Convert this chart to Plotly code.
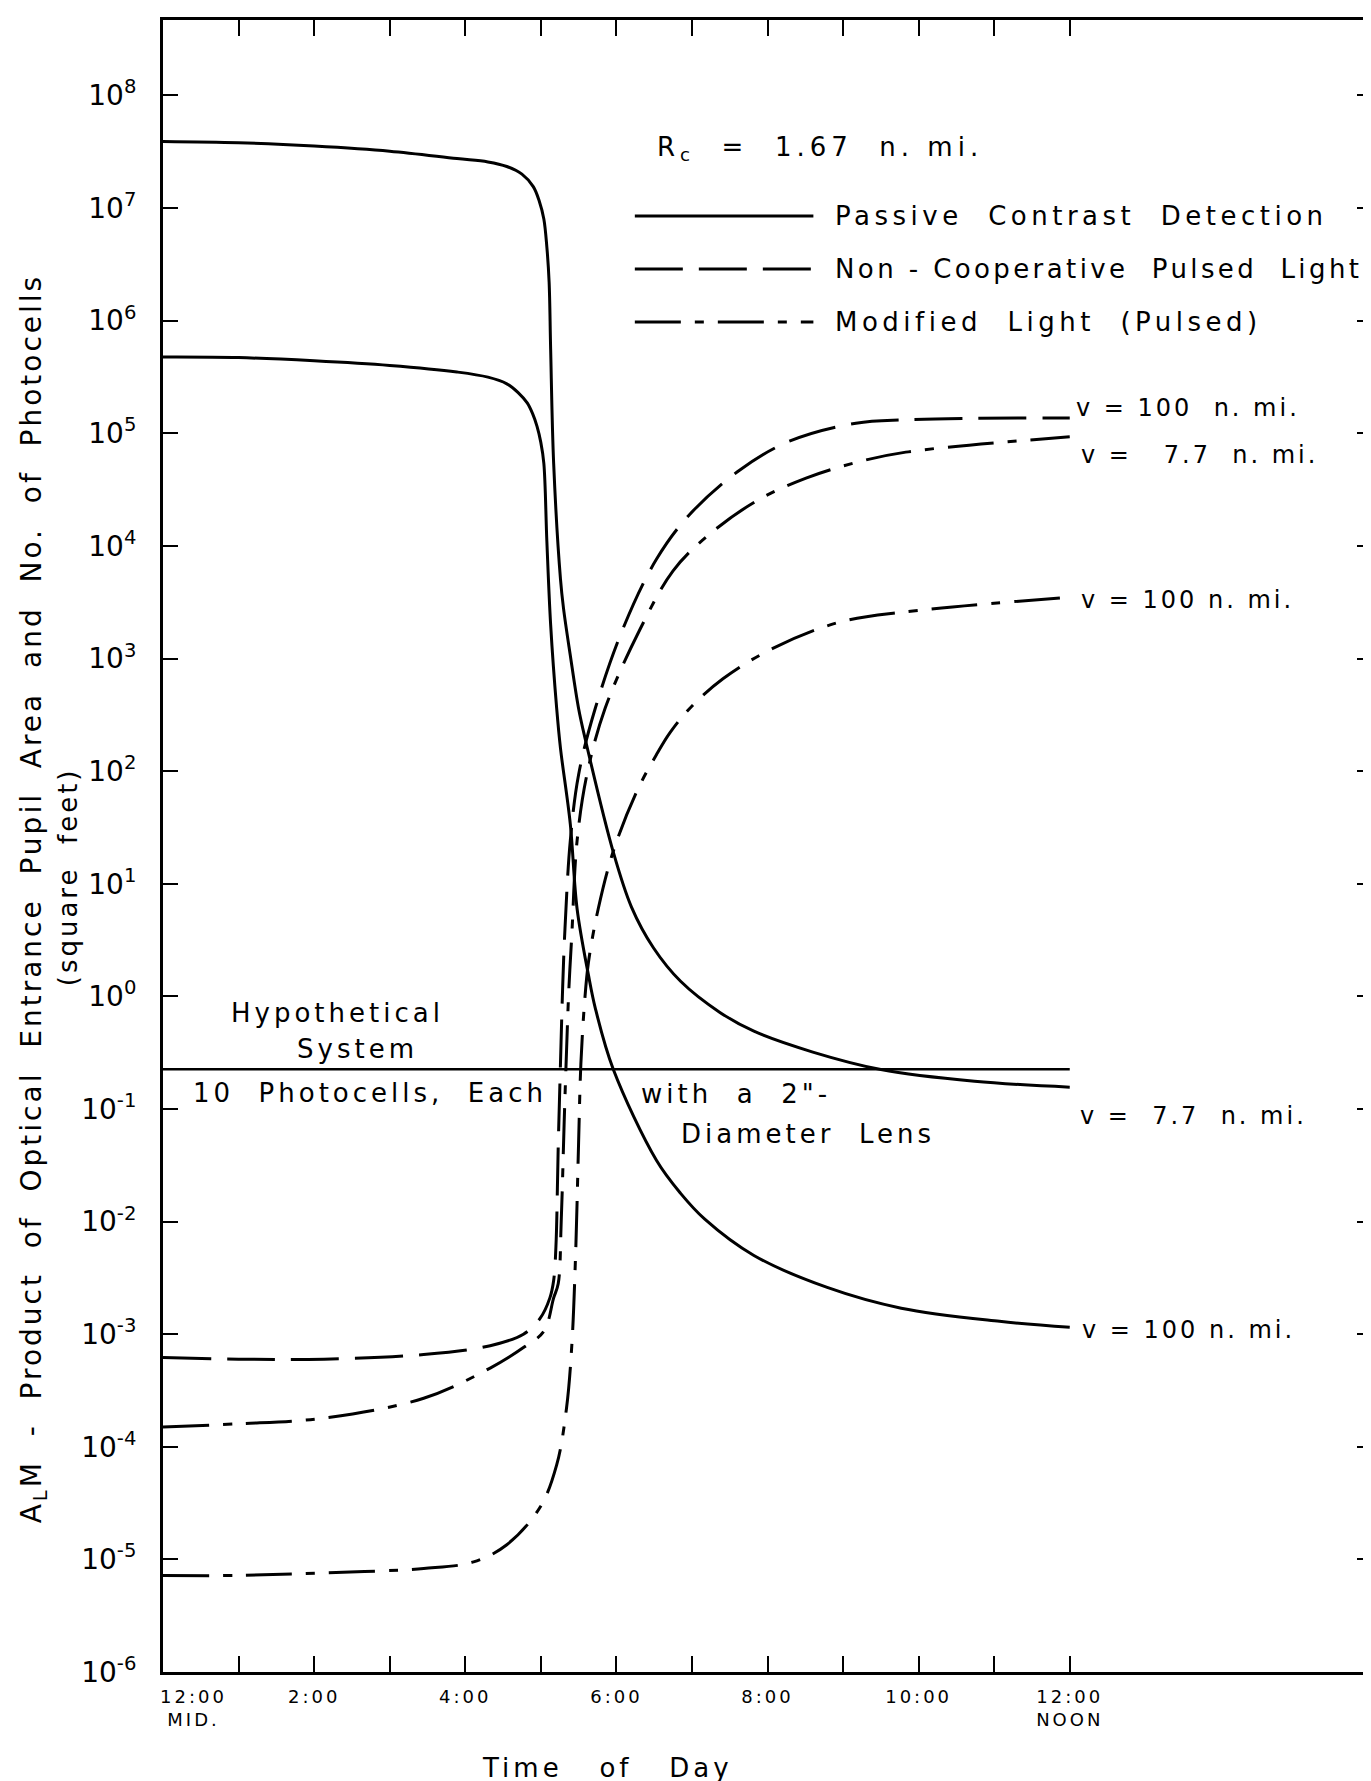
import plotly.graph_objects as go

# ---------------- data (hours after midnight, values in square feet) ----------------
passive_77_h = [0, 1, 2, 3, 3.89, 4.30, 4.55, 4.75, 4.90, 4.98, 5.04, 5.08, 5.11, 5.13,
                5.17, 5.26, 5.30, 5.39, 5.50, 5.59, 5.96, 6.20, 6.49, 6.85, 7.37, 7.82,
                8.60, 9.50, 10.74, 12]
passive_77_v = [3.9e7, 3.8e7, 3.55e7, 3.2e7, 2.75e7, 2.57e7, 2.34e7, 2.0e7, 1.55e7, 1.15e7,
                8.0e6, 4.5e6, 2.2e6, 5.6e5, 5.4e4, 5.1e3, 2.8e3, 1.07e3, 3.6e2, 1.9e2,
                19, 6.2, 2.7, 1.36, 0.72, 0.49, 0.32, 0.224, 0.176, 0.156]

passive_100_h = [0, 1, 2, 3, 3.89, 4.30, 4.55, 4.70, 4.82, 4.89, 4.95, 5.00, 5.04, 5.08,
                 5.13, 5.21, 5.26, 5.39, 5.48, 5.63, 5.72, 5.96, 6.53, 6.85, 7.17, 7.82,
                 8.79, 9.77, 11.07, 12]
passive_100_v = [4.75e5, 4.7e5, 4.4e5, 4.0e5, 3.5e5, 3.15e5, 2.75e5, 2.3e5, 1.86e5, 1.5e5,
                 1.15e5, 8.3e4, 5.4e4, 1.1e4, 2.0e3, 3.6e2, 1.6e2, 34, 6.0, 1.55, 0.79,
                 0.224, 0.035, 0.0178, 0.0105, 5.0e-3, 2.6e-3, 1.7e-3, 1.3e-3, 1.15e-3]

noncoop_100_h = [0, 1, 2.13, 3.45, 4.33, 4.77, 4.99, 5.12, 5.17, 5.20, 5.23, 5.26, 5.29,
                 5.32, 5.39, 5.50, 5.72, 6.09, 6.53, 6.97, 7.63, 8.29, 9.17, 9.83, 12]
noncoop_100_v = [6.2e-4, 6.0e-4, 6.0e-4, 6.6e-4, 7.9e-4, 1.0e-3, 1.38e-3, 2.1e-3, 3.0e-3,
                 6.0e-3, 0.045, 0.25, 1.26, 4.0, 24, 93, 3.6e2, 1.86e3, 7.6e3, 1.9e4,
                 4.7e4, 8.5e4, 1.23e5, 1.32e5, 1.37e5]

modified_77_h = [0, 1, 2.13, 3.45, 4.33, 4.77, 5.04, 5.17, 5.23, 5.27, 5.31, 5.34, 5.37,
                 5.41, 5.48, 5.61, 5.85, 6.31, 6.75, 7.19, 7.85, 8.51, 9.17, 9.83, 12]
modified_77_v = [1.5e-4, 1.6e-4, 1.8e-4, 2.7e-4, 5.0e-4, 7.6e-4, 1.06e-3, 2.1e-3, 2.8e-3,
                 0.01, 0.08, 0.32, 1.12, 3.5, 24, 93, 3.6e2, 1.8e3, 6.0e3, 1.2e4, 2.5e4,
                 4.0e4, 5.5e4, 6.8e4, 9.3e4]

modified_100_h = [0, 1, 2.13, 3.45, 4.11, 4.55, 4.99, 5.21, 5.34, 5.41, 5.46, 5.50, 5.53,
                  5.58, 5.63, 5.76, 5.96, 6.27, 6.53, 6.71, 6.97, 7.41, 8.07, 8.95, 9.83, 12]
modified_100_v = [7.2e-6, 7.2e-6, 7.6e-6, 8.3e-6, 9.5e-6, 1.35e-5, 2.9e-5, 6.9e-5, 2.2e-4,
                  7.9e-4, 5.0e-3, 0.05, 0.25, 0.9, 2.0, 6.0, 19.5, 66, 1.4e2, 2.2e2, 3.6e2,
                  6.6e2, 1.23e3, 2.1e3, 2.6e3, 3.5e3]

hypothetical_h = [0, 12]
hypothetical_v = [0.225, 0.225]

x_tick_vals = list(range(0, 13))
x_tick_labels = ["12:00\nMID.", "", "2:00", "", "4:00", "", "6:00", "", "8:00", "",
                 "10:00", "", "12:00\nNOON"]
y_exponents = list(range(-6, 9))

legend_labels = ["Passive  Contrast  Detection",
                 "Non - Cooperative  Pulsed  Light",
                 "Modified  Light  (Pulsed)"]
legend_spacing = [4.5, 3.4, 4.5]

# ---------------- styles ----------------
FONT = "DejaVu Sans"
INK = "black"
DASH = "48px,16px"
DASHDOT = "46px,14px,9px,14px"

W, H = 1371, 1781
L, R, T, B = 155, 1367, 12, 1664


def px(x):
    return (x - L) / (R - L)


def py(y):
    return 1 - (y - T) / (B - T)


def spaced(s, ls):
    return '<span style="letter-spacing:%.1fpx">%s</span>' % (ls, s)


fig = go.Figure()

curves = [
    (passive_77_h, passive_77_v, "solid"),
    (passive_100_h, passive_100_v, "solid"),
    (noncoop_100_h, noncoop_100_v, DASH),
    (modified_77_h, modified_77_v, DASHDOT),
    (modified_100_h, modified_100_v, DASHDOT),
]
for xs, ys, dash in curves:
    fig.add_trace(go.Scatter(x=xs, y=ys, mode="lines",
                             line=dict(color=INK, width=3, dash=dash,
                                       shape="spline", smoothing=1.0),
                             showlegend=False, hoverinfo="skip"))

fig.add_trace(go.Scatter(x=hypothetical_h, y=hypothetical_v, mode="lines",
                         line=dict(color=INK, width=2.6), showlegend=False,
                         hoverinfo="skip"))

# legend samples drawn as long strokes
legend_y = [208, 261, 314]
legend_dash = ["solid", DASH, DASHDOT]
shapes = []
for yy, dsh in zip(legend_y, legend_dash):
    shapes.append(dict(type="line", xref="paper", yref="paper",
                       x0=px(628), x1=px(807), y0=py(yy), y1=py(yy),
                       line=dict(color=INK, width=3, dash=dsh)))

ann = []


def text(s, x, y, size=24, xanchor="left", angle=0, ls=0):
    if ls:
        s = spaced(s, ls)
    ann.append(dict(text=s, x=px(x), y=py(y), xref="paper", yref="paper",
                    xanchor=xanchor, yanchor="middle", showarrow=False,
                    textangle=angle, font=dict(family=FONT, size=size, color=INK)))


for yy, lab, ls in zip(legend_y, legend_labels, legend_spacing):
    text(lab, 827, yy, size=26, ls=ls)

text("R<sub>c</sub>  =  1.67  n. mi.", 648, 140, size=26, ls=5)

text("v = 100  n. mi.", 1068, 400, size=24, ls=3)
text("v =   7.7  n. mi.", 1073, 447, size=24, ls=3)
text("v = 100 n. mi.", 1073, 592, size=24, ls=3)
text("v =  7.7  n. mi.", 1072, 1108, size=24, ls=3)
text("v = 100 n. mi.", 1074, 1322, size=24, ls=3)

text("Hypothetical", 330, 1005, size=26, xanchor="center", ls=4)
text("System", 350, 1041, size=26, xanchor="center", ls=4)
text("10  Photocells,  Each", 183, 1085, size=26, ls=4)
text("with  a  2\"-", 632, 1086, size=26, ls=4)
text("Diameter  Lens", 672, 1126, size=26, ls=4)

text("A<sub>L</sub>M  -  Product  of  Optical  Entrance  Pupil  Area  and  No.  of  Photocells",
     25, 890, size=28, xanchor="center", angle=-90, ls=3)
text("(square  feet)", 60, 869, size=26, xanchor="center", angle=-90, ls=3)
text("Time   of   Day", 601, 1760, size=26, xanchor="center", ls=4)

fig.update_layout(
    width=W, height=H,
    margin=dict(l=L, r=W - R, t=T, b=H - B),
    paper_bgcolor="white", plot_bgcolor="white",
    shapes=shapes, annotations=ann,
    font=dict(family=FONT, color=INK),
)

x_tick_text = []
for i, lab in enumerate(x_tick_labels):
    if not lab:
        x_tick_text.append("")
        continue
    lines = lab.split("\n")
    if i == 0:
        lines = ["\u00a0" * 7 + ln for ln in lines]
    x_tick_text.append("<br>".join(spaced(ln, 3) for ln in lines))

fig.update_xaxes(range=[0, 16], showgrid=False, zeroline=False,
                 showline=True, linewidth=3, linecolor=INK, mirror="ticks",
                 ticks="inside", ticklen=16, tickwidth=2, tickcolor=INK,
                 tickvals=x_tick_vals, ticktext=x_tick_text,
                 tickfont=dict(family=FONT, size=18, color=INK),
                 ticklabelstandoff=6)

fig.update_yaxes(type="log", range=[-6, 8.67], showgrid=False, zeroline=False,
                 showline=True, linewidth=3, linecolor=INK, mirror="ticks",
                 ticks="inside", ticklen=15, tickwidth=2, tickcolor=INK,
                 tickvals=[10.0 ** k for k in y_exponents],
                 ticktext=["10<sup>%d</sup>" % k for k in y_exponents],
                 tickfont=dict(family=FONT, size=28, color=INK),
                 ticklabelstandoff=18)

fig.write_html("out.html")
